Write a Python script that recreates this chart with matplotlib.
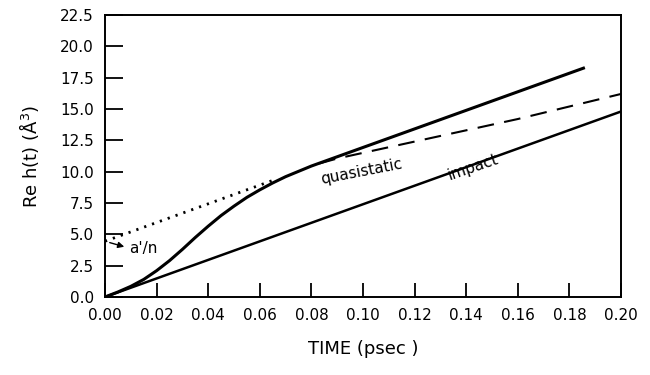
import matplotlib
matplotlib.use("Agg")
import matplotlib.pyplot as plt

# Full solution (upper solid curve)
full_t = [0.0, 0.005, 0.01, 0.015, 0.02, 0.025, 0.03, 0.035, 0.04, 0.045, 0.05,
          0.055, 0.06, 0.065, 0.07, 0.08, 0.186]
full_y = [0.0, 0.4, 0.85, 1.4, 2.1, 2.9, 3.8, 4.75, 5.65, 6.5, 7.25,
          7.95, 8.55, 9.1, 9.6, 10.45, 18.3]

# Impact approximation (lower straight line)
impact_t = [0.0, 0.20]
impact_y = [0.0, 14.8]

# Asymptote intercept a'/n (dotted)
dot_t = [0.0, 0.065]
dot_y = [4.45, 9.3]

# Quasistatic (dashed)
quasi_t = [0.083, 0.09, 0.10, 0.11, 0.12, 0.13, 0.14, 0.15, 0.16, 0.17, 0.18, 0.19, 0.20]
quasi_y = [10.65, 11.05, 11.5, 11.95, 12.4, 12.85, 13.3, 13.75, 14.2, 14.7, 15.2, 15.7, 16.2]

xticks = [0.00, 0.02, 0.04, 0.06, 0.08, 0.10, 0.12, 0.14, 0.16, 0.18, 0.20]
yticks = [0.0, 2.5, 5.0, 7.5, 10.0, 12.5, 15.0, 17.5, 20.0, 22.5]

fig = plt.figure(figsize=(6.5, 3.75), dpi=100)
ax = fig.add_axes([105/650, 78/375, 516/650, 282/375])

ax.plot(full_t, full_y, color="black", lw=2.2, solid_capstyle="butt")
ax.plot(impact_t, impact_y, color="black", lw=1.8)
ax.plot(dot_t, dot_y, color="black", lw=2.0, linestyle=(0, (0.8, 2.2)))
ax.plot(quasi_t, quasi_y, color="black", lw=1.5, linestyle=(0, (8, 5)))

ax.text(0.0995, 10.0, "quasistatic", rotation=11, ha="center", va="center", fontsize=11)
ax.text(0.1425, 10.35, "impact", rotation=19, ha="center", va="center", fontsize=11)
ax.annotate("", xy=(0.0085, 3.95), xytext=(0.0008, 4.4),
            arrowprops=dict(arrowstyle="-|>", color="black", lw=1.0, mutation_scale=9))
ax.text(0.0095, 3.9, "a'/n", ha="left", va="center", fontsize=11)

ax.set_xlim(0.0, 0.20)
ax.set_ylim(0.0, 22.5)
ax.set_xticks(xticks)
ax.set_yticks(yticks)
ax.set_xticklabels([f"{v:.2f}" for v in xticks], fontsize=11)
ax.set_yticklabels([f"{v:.1f}" for v in yticks], fontsize=11)
ax.tick_params(direction="in", length=10, width=1.3, top=False, right=False, pad=8)
ax.tick_params(axis="y", length=13)
for s in ax.spines.values():
    s.set_linewidth(1.4)

ax.set_xlabel("TIME (psec )", fontsize=13, labelpad=12)
ax.set_ylabel("Re h(t) (Å$^3$)", fontsize=13, labelpad=14)

fig.savefig("out.png", dpi=100)
